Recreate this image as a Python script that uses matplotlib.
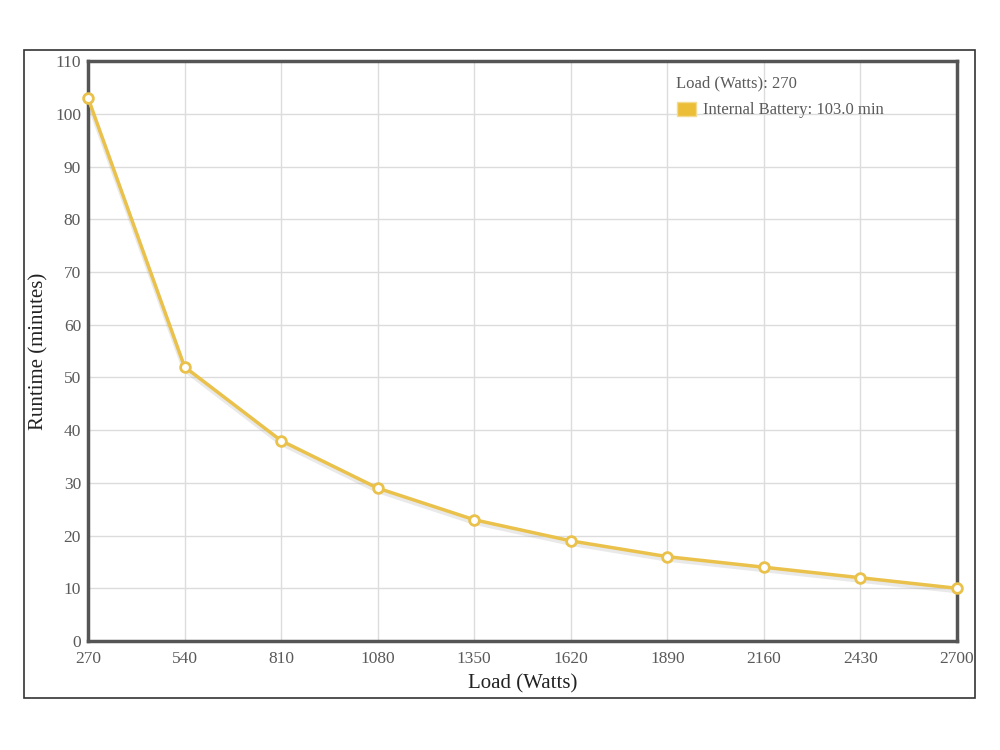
import matplotlib.pyplot as plt
from matplotlib.patches import Rectangle

# load steps (W) and runtime of the internal battery (min)
loads = [270, 540, 810, 1080, 1350, 1620, 1890, 2160, 2430, 2700]
runtime = [103, 52, 38, 29, 23, 19, 16, 14, 12, 10]
yticks = list(range(0, 111, 10))

gold = '#e9c14b'
frame = '#555555'
txt = '#5a5a5a'

plt.rcParams['font.family'] = ['Liberation Serif', 'DejaVu Serif']

fig = plt.figure(figsize=(10, 7.5), dpi=100)
fig.patches.append(Rectangle((0.024, 0.0693), 0.951, 0.864, transform=fig.transFigure,
                             fill=False, edgecolor='#333333', linewidth=1.2))

ax = fig.add_axes([0.088, 0.1453, 0.869, 0.7733])
ax.set_xlim(loads[0], loads[-1])
ax.set_ylim(0, 110)
ax.set_xticks(loads)
ax.set_yticks(yticks)
ax.grid(True, color='#dcdcdc', linewidth=1)
ax.set_axisbelow(True)
for s in ax.spines.values():
    s.set_color(frame)
    s.set_linewidth(2.5)
ax.tick_params(length=0, labelsize=12.5, colors=txt)
ax.tick_params(axis='x', pad=7)
ax.tick_params(axis='y', pad=5)

# soft shadow under the line
ax.plot(loads, [v - 0.5 for v in runtime], color='#aaaaaa', alpha=0.25, linewidth=3.5,
        solid_capstyle='round', zorder=2, clip_on=False)
ax.plot(loads, runtime, color=gold, linewidth=2.5, zorder=3, clip_on=False,
        marker='o', markersize=7, markerfacecolor='white', markeredgecolor=gold,
        markeredgewidth=2)

ax.set_xlabel('Load (Watts)', fontsize=15, color='#222222')
ax.set_ylabel('Runtime (minutes)', fontsize=15, color='#222222')
ax.xaxis.set_label_coords(0.5, -0.058)
ax.yaxis.set_label_coords(-0.046, 0.5)

# tooltip-style legend
fig.text(0.676, 0.889, 'Load (Watts): 270', fontsize=12, color=txt,
         va='center', ha='left')
fig.patches.append(Rectangle((0.677, 0.845), 0.019, 0.019, transform=fig.transFigure,
                             facecolor='#ecbd36', edgecolor='#f3dc90', linewidth=1))
fig.text(0.703, 0.854, 'Internal Battery: 103.0 min', fontsize=12, color=txt,
         va='center', ha='left')

fig.savefig('out.png')
